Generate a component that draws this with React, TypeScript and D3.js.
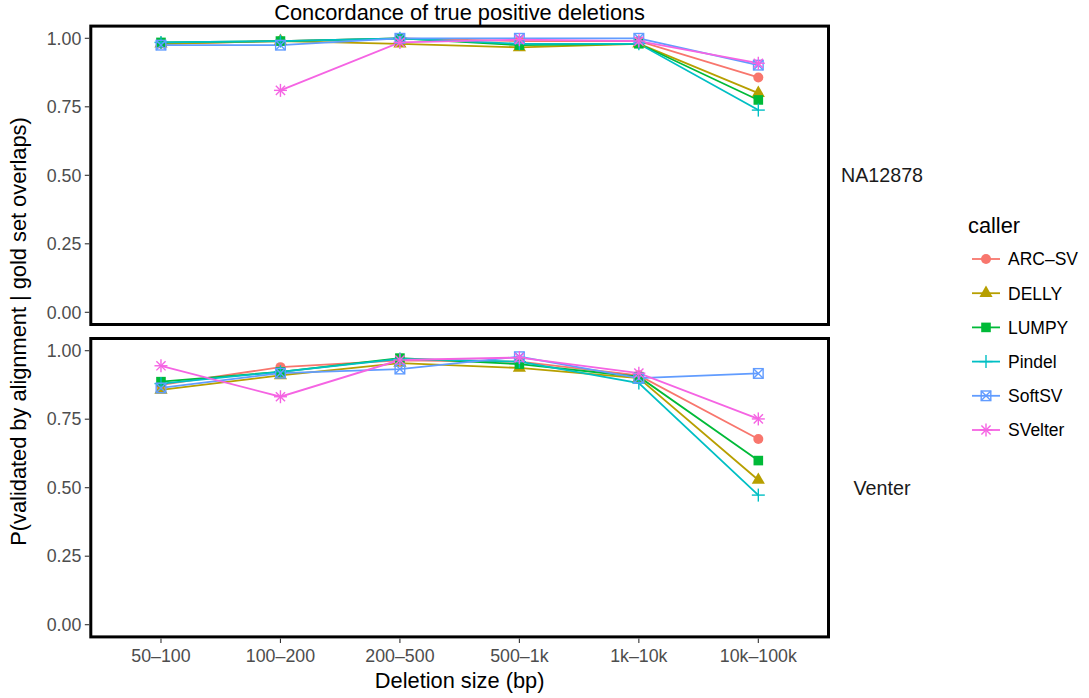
import React from "react";
import * as d3 from "d3";

const categories = ["50–100", "100–200", "200–500", "500–1k", "1k–10k", "10k–100k"];
const callers = ["ARC–SV", "DELLY", "LUMPY", "Pindel", "SoftSV", "SVelter"];
const colors = ["#F8766D", "#B79F00", "#00BA38", "#00BFC4", "#619CFF", "#F564E3"];
const shapes = ["circle", "triangle", "square", "plus", "squarex", "asterisk"];
const yTicks = [0, 0.25, 0.5, 0.75, 1.0];
const panels = ["NA12878", "Venter"];

// NA12878 panel
const naARC = [0.98, 0.99, 1.0, 0.99, 0.99, 0.857];
const naDELLY = [0.98, 0.99, 0.98, 0.967, 0.98, 0.8];
const naLUMPY = [0.985, 0.99, 1.0, 0.975, 0.98, 0.775];
const naPindel = [0.985, 0.99, 1.0, 0.98, 0.98, 0.738];
const naSoftSV = [0.975, 0.975, 1.0, 1.0, 1.0, 0.902];
const naSVelter: (number | null)[] = [null, 0.81, 0.985, 0.995, 0.99, 0.909];

// Venter panel
const veARC = [0.875, 0.94, 0.965, 0.96, 0.91, 0.678];
const veDELLY = [0.857, 0.91, 0.955, 0.937, 0.9, 0.528];
const veLUMPY = [0.887, 0.923, 0.973, 0.951, 0.905, 0.599];
const vePindel = [0.88, 0.923, 0.97, 0.96, 0.882, 0.473];
const veSoftSV = [0.864, 0.918, 0.933, 0.978, 0.9, 0.917];
const veSVelter = [0.945, 0.832, 0.966, 0.975, 0.918, 0.751];

const panelData = [
  [naARC, naDELLY, naLUMPY, naPindel, naSoftSV, naSVelter],
  [veARC, veDELLY, veLUMPY, vePindel, veSoftSV, veSVelter],
];

const FONT = "'Liberation Sans', Arial, Helvetica, sans-serif";

function Marker({ shape, x, y, color }: { shape: string; x: number; y: number; color: string }) {
  const t = `translate(${x},${y})`;
  switch (shape) {
    case "circle":
      return <circle cx={x} cy={y} r={5} fill={color} />;
    case "triangle":
      return <path transform={t} d={d3.symbol(d3.symbolTriangle, 75)()!} fill={color} />;
    case "square":
      return <rect x={x - 4.8} y={y - 4.8} width={9.6} height={9.6} fill={color} />;
    case "plus":
      return (
        <g transform={t} stroke={color} strokeWidth={1.4}>
          <line x1={-6.5} x2={6.5} y1={0} y2={0} />
          <line x1={0} x2={0} y1={-6.5} y2={6.5} />
        </g>
      );
    case "squarex":
      return (
        <g transform={t} stroke={color} strokeWidth={1.4} fill="none">
          <rect x={-4.8} y={-4.8} width={9.6} height={9.6} />
          <line x1={-4.8} x2={4.8} y1={-4.8} y2={4.8} />
          <line x1={-4.8} x2={4.8} y1={4.8} y2={-4.8} />
        </g>
      );
    case "asterisk":
      return (
        <g transform={t} stroke={color} strokeWidth={1.4}>
          <line x1={-6.5} x2={6.5} y1={0} y2={0} />
          <line x1={0} x2={0} y1={-6.5} y2={6.5} />
          <line x1={-4.6} x2={4.6} y1={-4.6} y2={4.6} />
          <line x1={-4.6} x2={4.6} y1={4.6} y2={-4.6} />
        </g>
      );
  }
  return null;
}

export default function App() {
  const W = 1089, H = 698;
  const left = 89.3, right = 830;
  const panelTops = [24.6, 337];
  const panelH = 301.4;

  const x = d3.scalePoint<string>().domain(categories).range([left, right]).padding(0.6);
  const yScales = panelTops.map((top) =>
    d3.scaleLinear().domain([-0.05, 1.05]).range([top + panelH, top])
  );

  const cx = (left + right) / 2;

  return (
    <svg width={W} height={H} style={{ position: "absolute", left: 0, top: 0, background: "#fff" }} fontFamily={FONT}>
      <rect width={W} height={H} fill="#fff" />
      <text x={cx} y={20} textAnchor="middle" fontSize={21.8} fill="#000">
        Concordance of true positive deletions
      </text>

      {panels.map((pname, pi) => {
        const y = yScales[pi];
        const top = panelTops[pi];
        const data = panelData[pi];
        return (
          <g key={pname}>
            {data.map((vals, si) => {
              const line = d3
                .line<number | null>()
                .defined((d) => d !== null)
                .x((_, i) => x(categories[i])!)
                .y((d) => y(d as number));
              return (
                <path key={si} d={line(vals)!} fill="none" stroke={colors[si]} strokeWidth={1.8} />
              );
            })}
            {data.map((vals, si) =>
              vals.map((v, i) =>
                v === null ? null : (
                  <Marker key={`${si}-${i}`} shape={shapes[si]} x={x(categories[i])!} y={y(v)} color={colors[si]} />
                )
              )
            )}
            <rect x={left + 1.5} y={top + 1.5} width={right - left - 3} height={panelH - 3} fill="none" stroke="#000" strokeWidth={3} />
            {yTicks.map((t) => (
              <g key={t}>
                <line x1={left - 4.5} x2={left} y1={y(t)} y2={y(t)} stroke="#333" strokeWidth={1.1} />
                <text x={left - 8} y={y(t)} dy="0.35em" textAnchor="end" fontSize={17.8} fill="#4D4D4D">
                  {t.toFixed(2)}
                </text>
              </g>
            ))}
            <text x={882} y={top + panelH / 2} dy="0.35em" textAnchor="middle" fontSize={19.7} fill="#1A1A1A">
              {pname}
            </text>
          </g>
        );
      })}

      {categories.map((c) => (
        <g key={c}>
          <line x1={x(c)!} x2={x(c)!} y1={panelTops[1] + panelH} y2={panelTops[1] + panelH + 4.5} stroke="#333" strokeWidth={1.1} />
          <text x={x(c)!} y={662} textAnchor="middle" fontSize={17.8} fill="#4D4D4D">
            {c}
          </text>
        </g>
      ))}

      <text x={cx} y={688} textAnchor="middle" fontSize={21.8} fill="#000">
        Deletion size (bp)
      </text>
      <text
        transform={`translate(26, ${(panelTops[0] + panelTops[1] + panelH) / 2}) rotate(-90)`}
        textAnchor="middle"
        fontSize={21.8}
        fill="#000"
      >
        P(validated by alignment | gold set overlaps)
      </text>

      <text x={968} y={233} fontSize={21.8} fill="#000">
        caller
      </text>
      {callers.map((c, i) => {
        const ly = 259 + i * 34.2;
        return (
          <g key={c}>
            <line x1={972} x2={1000} y1={ly} y2={ly} stroke={colors[i]} strokeWidth={1.8} />
            <Marker shape={shapes[i]} x={986} y={ly} color={colors[i]} />
            <text x={1008} y={ly} dy="0.36em" fontSize={17.5} fill="#000">
              {c}
            </text>
          </g>
        );
      })}
    </svg>
  );
}
